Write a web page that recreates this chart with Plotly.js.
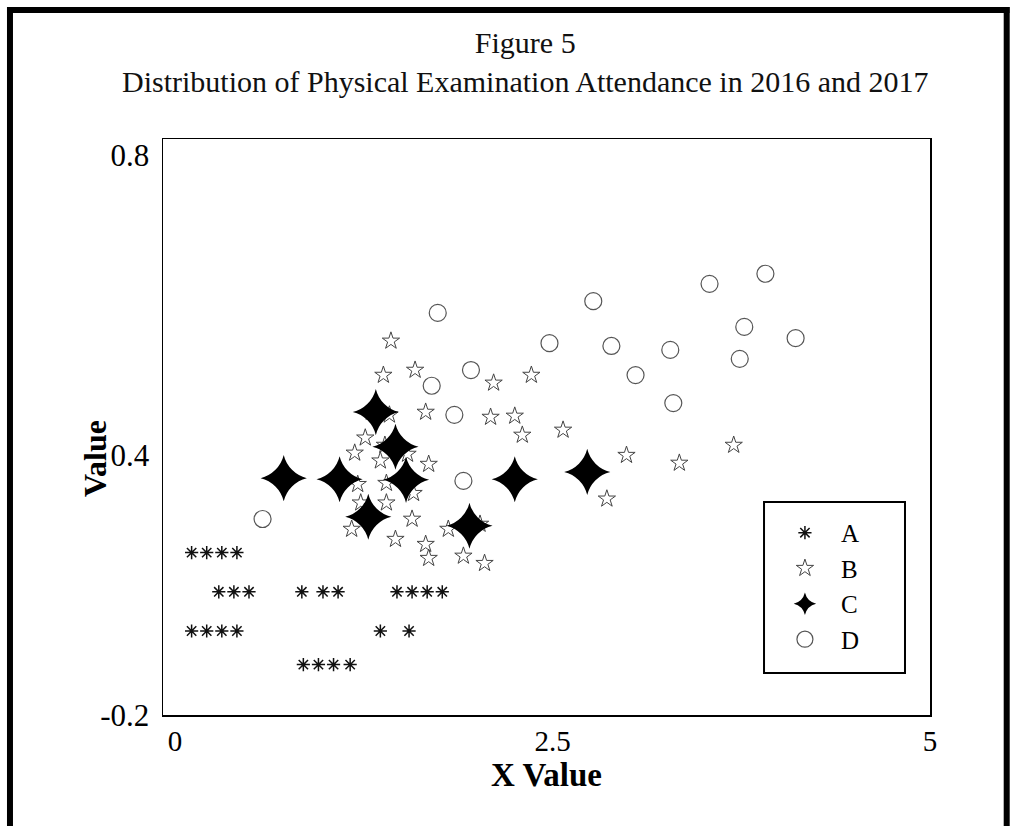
<!DOCTYPE html>
<html>
<head>
<meta charset="utf-8">
<script src="https://cdn.plot.ly/plotly-3.0.1.min.js"></script>
<style>html,body{margin:0;padding:0;background:#fff;}#chart{width:1014px;height:826px;}</style>
</head>
<body>
<div id="chart"></div>
<script>
// Series A (asterisks)
const aX = [0.11,0.21,0.31,0.41, 0.29,0.39,0.49, 0.84,0.98,1.08, 1.47,1.57,1.67,1.77,
            0.11,0.21,0.31,0.41, 1.36,1.55, 0.85,0.95,1.05,1.16];
const aY = [0.09,0.09,0.09,0.09, 0.02,0.02,0.02, 0.02,0.02,0.02, 0.02,0.02,0.02,0.02,
            -0.05,-0.05,-0.05,-0.05, -0.05,-0.05, -0.11,-0.11,-0.11,-0.11];
// Series B (small open stars)
const bX = [1.43,1.38,1.59,2.11,2.36,1.30,1.42,1.66,2.09,2.25,2.30,2.57,1.26,1.39,1.19,1.54,1.36,1.68,
            1.21,1.40,1.58,1.23,1.40,1.17,1.57,1.46,1.66,1.68,1.81,2.02,1.91,2.05,2.99,3.34,3.70,2.86];
const bY = [0.468,0.407,0.416,0.393,0.407,0.341,0.336,0.341,0.332,0.334,0.300,0.309,0.295,0.282,0.268,0.266,0.254,0.248,
            0.212,0.214,0.196,0.179,0.179,0.132,0.150,0.114,0.105,0.080,0.132,0.141,0.084,0.071,0.264,0.250,0.282,0.186];
// Series C (four-point stars)
const cX = [0.72,1.09,1.33,1.46,1.53,1.28,1.95,2.25,2.73];
const cY = [0.223,0.221,0.341,0.279,0.220,0.154,0.138,0.221,0.234];
// Series D (open circles)
const dX = [0.58,1.74,1.70,1.85,1.96,1.91,2.48,2.77,2.89,3.05,3.28,3.30,3.54,3.91,3.77,3.74,4.11];
const dY = [0.150,0.518,0.388,0.336,0.416,0.218,0.464,0.539,0.459,0.407,0.452,0.357,0.570,0.588,0.493,0.436,0.473];
// Axis ticks
const xTickVals = [0, 2.5, 5];
const xTickText = ['0', '2.5', '5'];
const yTickVals = [-0.2, 0.264, 0.8];
const yTickText = ['-0.2', '0.4', '0.8'];

const serif = '"Liberation Serif", "Times New Roman", serif';

const traces = [
  {x: aX, y: aY, name: 'A', type: 'scatter', mode: 'markers',
   marker: {symbol: 'asterisk-open', size: 11, color: '#111', line: {color: '#111', width: 1.5}}},
  {x: bX, y: bY, name: 'B', type: 'scatter', mode: 'markers',
   marker: {symbol: 'star-open', size: 13, color: '#444', line: {color: '#444', width: 1}}},
  {x: cX, y: cY, name: 'C', type: 'scatter', mode: 'markers',
   marker: {symbol: 'star-diamond', size: 33, color: '#000', line: {width: 0}}},
  {x: dX, y: dY, name: 'D', type: 'scatter', mode: 'markers',
   marker: {symbol: 'circle-open', size: 17, color: '#555', line: {color: '#555', width: 1.2}}}
];

const frameLine = {color: '#000', width: 6};
const layout = {
  width: 1014, height: 826,
  margin: {l: 163, r: 84, t: 139, b: 111},
  paper_bgcolor: '#fff', plot_bgcolor: '#fff',
  font: {family: serif, color: '#000'},
  title: {
    text: 'Figure 5<br>Distribution of Physical Examination Attendance in 2016 and 2017',
    font: {family: serif, size: 30, color: '#111'},
    x: 0.518, xref: 'container', xanchor: 'center',
    y: 0.936, yref: 'container', yanchor: 'top'
  },
  xaxis: {
    range: [-0.0795, 5.0], tickmode: 'array', tickvals: xTickVals, ticktext: xTickText,
    showgrid: false, zeroline: false, ticks: '', showline: true, mirror: true,
    linecolor: '#000', linewidth: 1.5,
    tickfont: {family: serif, size: 29, color: '#000'},
    title: {text: '<b>X Value</b>', font: {family: serif, size: 33, color: '#000'}, standoff: 0}
  },
  yaxis: {
    range: [-0.2, 0.8286], tickmode: 'array', tickvals: yTickVals, ticktext: yTickText,
    showgrid: false, zeroline: false, ticks: '', showline: true, mirror: true,
    linecolor: '#000', linewidth: 1.5, ticklabelstandoff: 6,
    tickfont: {family: serif, size: 31, color: '#000'}
  },
  annotations: [
    {text: '<b>Value</b>', xref: 'paper', yref: 'paper', x: -0.0887, y: 0.446,
     xanchor: 'center', yanchor: 'middle', textangle: -90, showarrow: false,
     font: {family: serif, size: 32, color: '#000'}}
  ],
  legend: {
    x: 0.79, xanchor: 'left', y: 0.356, yanchor: 'top',
    borderwidth: 0, bgcolor: 'rgba(0,0,0,0)',
    font: {family: serif, size: 25, color: '#000'},
    itemwidth: 62, tracegroupgap: 0
  },
  shapes: [
    {type: 'rect', xref: 'paper', yref: 'paper', x0: 0.7836, x1: 0.9674, y0: 0.0729, y1: 0.3698,
     line: {color: '#000', width: 2}, fillcolor: 'rgba(255,255,255,0)', layer: 'above'},
    {type: 'line', xref: 'paper', yref: 'paper', x0: -0.1995, x1: -0.1995, y0: -0.3, y1: 1.2292, line: frameLine},
    {type: 'line', xref: 'paper', yref: 'paper', x0: -0.2034, x1: 1.1037, y0: 1.224, y1: 1.224, line: frameLine},
    {type: 'line', xref: 'paper', yref: 'paper', x0: 1.1, x1: 1.1, y0: -0.3, y1: 1.2292, line: frameLine}
  ]
};

Plotly.newPlot('chart', traces, layout, {displayModeBar: false, staticPlot: true});
</script>
</body>
</html>
